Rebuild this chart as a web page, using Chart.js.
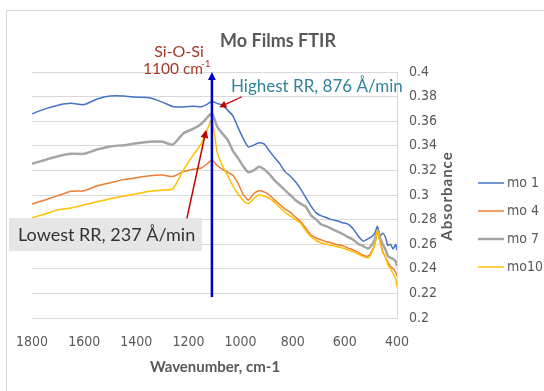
<!DOCTYPE html>
<html lang="en">
<head>
    <meta charset="UTF-8">
    <title>Mo Films FTIR</title>
    <script src="https://cdn.jsdelivr.net/npm/chart.js"></script>
    <style>
        html, body { margin: 0; padding: 0; background: #fff; }
        #wrap { width: 544px; height: 391px; position: relative; }
    </style>
</head>
<body>
<div id="wrap"><canvas id="ftir-chart" width="544" height="391"></canvas></div>
<script>
// wavenumber grid (cm-1)
const wavenumbers = [1800, 1750, 1700, 1650, 1600, 1550, 1500, 1450, 1400, 1350, 1300, 1260, 1220, 1180, 1150, 1130, 1110,
    1090, 1070, 1050, 1030, 1010, 990, 970, 950, 930, 910, 890, 870, 850, 830, 810, 790, 770, 750, 730, 710,
    690, 670, 650, 630, 610, 590, 570, 550, 530, 510, 495, 485, 475, 465, 455, 445, 435, 425, 415, 405, 400];

const mo1 = [0.366, 0.370, 0.373, 0.3745, 0.3735, 0.378, 0.3805, 0.3805, 0.3795, 0.379, 0.3755, 0.372, 0.3715, 0.3722, 0.3718, 0.3735, 0.376,
    0.3745, 0.373, 0.369, 0.3645, 0.355, 0.346, 0.339, 0.3405, 0.3425, 0.3415, 0.336, 0.3305, 0.3255, 0.319, 0.3155, 0.311, 0.305, 0.298, 0.291, 0.2855,
    0.283, 0.2815, 0.280, 0.279, 0.2775, 0.2765, 0.273, 0.267, 0.2625, 0.2645, 0.2665, 0.269, 0.2745, 0.2665, 0.269, 0.266, 0.259, 0.260, 0.256, 0.260, 0.255];

const mo4 = [0.2927, 0.296, 0.2995, 0.303, 0.3035, 0.3075, 0.310, 0.3125, 0.314, 0.3157, 0.3163, 0.315, 0.319, 0.321, 0.322, 0.325, 0.3285,
    0.324, 0.321, 0.3185, 0.316, 0.3095, 0.3005, 0.296, 0.301, 0.3035, 0.3025, 0.300, 0.296, 0.2925, 0.2885, 0.286, 0.282, 0.2785, 0.273, 0.2675, 0.265,
    0.2635, 0.262, 0.261, 0.2595, 0.259, 0.257, 0.2555, 0.2535, 0.251, 0.2505, 0.255, 0.260, 0.270, 0.262, 0.254, 0.250, 0.245, 0.242, 0.240, 0.237, 0.234];

const mo7 = [0.3253, 0.3285, 0.3315, 0.3335, 0.3335, 0.337, 0.3395, 0.3405, 0.342, 0.3432, 0.3432, 0.341, 0.350, 0.354, 0.358, 0.3625, 0.3665,
    0.3557, 0.350, 0.345, 0.336, 0.330, 0.3235, 0.3185, 0.320, 0.323, 0.321, 0.317, 0.312, 0.308, 0.304, 0.300, 0.296, 0.293, 0.2905, 0.2835, 0.280,
    0.276, 0.2745, 0.2725, 0.2705, 0.2685, 0.266, 0.264, 0.2605, 0.2585, 0.2565, 0.260, 0.264, 0.2715, 0.265, 0.260, 0.256, 0.2505, 0.249, 0.248, 0.246, 0.242];

const mo10 = [0.2815, 0.2845, 0.288, 0.2895, 0.292, 0.2945, 0.297, 0.299, 0.301, 0.303, 0.304, 0.305, 0.320, 0.333, 0.342, 0.352, 0.361,
    0.335, 0.324, 0.316, 0.3075, 0.301, 0.2955, 0.293, 0.297, 0.300, 0.299, 0.2975, 0.294, 0.290, 0.286, 0.283, 0.280, 0.277, 0.271, 0.266, 0.263,
    0.261, 0.260, 0.259, 0.258, 0.257, 0.2555, 0.254, 0.252, 0.250, 0.249, 0.254, 0.260, 0.271, 0.262, 0.253, 0.250, 0.243, 0.240, 0.236, 0.232, 0.225];

const seriesNames = ['mo 1', 'mo 4', 'mo 7', 'mo10'];
const seriesColors = ['#4472C4', '#ED7D31', '#A5A5A5', '#FFC000'];
const seriesWidths = [1.5, 1.5, 2.5, 1.5];
const xTickStep = 200;
const yTickStep = 0.02;

// Si-O-Si marker line
const markerWave = 1110;
const markerFrom = 0.217;
const markerTo = 0.4;

const gridGray = '#D9D9D9';
const textGray = '#595959';
const narrow = '"Liberation Sans Narrow", "DejaVu Sans Condensed", sans-serif';

function arrow(ctx, x1, y1, x2, y2, color, width, head) {
    const a = Math.atan2(y2 - y1, x2 - x1);
    ctx.save();
    ctx.strokeStyle = color;
    ctx.fillStyle = color;
    ctx.lineWidth = width;
    ctx.beginPath();
    ctx.moveTo(x1, y1);
    ctx.lineTo(x2 - Math.cos(a) * head * 0.8, y2 - Math.sin(a) * head * 0.8);
    ctx.stroke();
    ctx.beginPath();
    ctx.moveTo(x2, y2);
    ctx.lineTo(x2 - head * Math.cos(a - 0.45), y2 - head * Math.sin(a - 0.45));
    ctx.lineTo(x2 - head * Math.cos(a + 0.45), y2 - head * Math.sin(a + 0.45));
    ctx.closePath();
    ctx.fill();
    ctx.restore();
}

const decorations = {
    id: 'decorations',
    beforeDraw(chart) {
        const ctx = chart.ctx;
        ctx.save();
        ctx.fillStyle = '#fff';
        ctx.fillRect(0, 0, chart.width, chart.height);
        ctx.strokeStyle = gridGray;
        ctx.lineWidth = 1;
        ctx.strokeRect(6.5, 10.5, 600, 400);
        ctx.restore();
    },
    afterDatasetsDraw(chart) {
        const ctx = chart.ctx;
        const x = chart.scales.x, y = chart.scales.y;
        ctx.save();

        // title
        ctx.fillStyle = textGray;
        ctx.font = 'bold 18px Lato';
        ctx.textAlign = 'center';
        ctx.textBaseline = 'middle';
        ctx.fillText('Mo Films FTIR', 278, 41);

        // axis titles
        ctx.font = 'bold 15px Lato';
        ctx.fillText('Wavenumber, cm-1', 215, 367);
        ctx.save();
        ctx.translate(447, 196);
        ctx.rotate(-Math.PI / 2);
        ctx.font = 'bold 15px Lato';
        if ('letterSpacing' in ctx) ctx.letterSpacing = '1px';
        ctx.fillText('Absorbance', 0, 0);
        ctx.restore();

        // legend
        ctx.font = '14px ' + narrow;
        ctx.textAlign = 'left';
        seriesNames.forEach((name, i) => {
            const ly = 183 + i * 28;
            ctx.strokeStyle = seriesColors[i];
            ctx.lineWidth = seriesWidths[i];
            ctx.beginPath();
            ctx.moveTo(478, ly);
            ctx.lineTo(504, ly);
            ctx.stroke();
            ctx.fillStyle = textGray;
            ctx.fillText(name, 507, ly);
        });

        // Si-O-Si marker
        const mx = x.getPixelForValue(markerWave);
        const mTop = y.getPixelForValue(markerTo);
        const mBot = y.getPixelForValue(markerFrom);
        arrow(ctx, mx, mBot, mx, mTop, '#0000CC', 2.5, 9);

        ctx.fillStyle = '#A33A2A';
        ctx.font = '16px Lato';
        ctx.textAlign = 'center';
        ctx.fillText('Si-O-Si', 179, 52);
        ctx.textAlign = 'left';
        ctx.font = '15.5px Lato';
        ctx.fillText('1100 cm', 143, 69);
        ctx.font = '10px Lato';
        ctx.fillText('-1', 201, 64);

        // highest RR
        ctx.fillStyle = '#31849B';
        ctx.font = '17px Lato';
        ctx.fillText('Highest RR, 876 Å/min', 231, 87);
        arrow(ctx, x.getPixelForValue(995), y.getPixelForValue(0.3799),
            x.getPixelForValue(1082), y.getPixelForValue(0.3713), '#C00000', 1.3, 8);

        // lowest RR
        ctx.fillStyle = '#E7E6E6';
        ctx.fillRect(9, 218, 193, 33);
        ctx.fillStyle = '#333';
        ctx.font = '18px Lato';
        ctx.fillText('Lowest RR, 237 Å/min', 18, 235);
        arrow(ctx, x.getPixelForValue(1206), y.getPixelForValue(0.281),
            x.getPixelForValue(1132), y.getPixelForValue(0.353), '#C00000', 1.5, 9);

        ctx.restore();
    }
};

const datasets = [mo1, mo4, mo7, mo10].map((vals, i) => ({
    label: seriesNames[i],
    data: vals.map((v, k) => ({ x: wavenumbers[k], y: v })),
    borderColor: seriesColors[i],
    backgroundColor: seriesColors[i],
    borderWidth: seriesWidths[i],
    pointRadius: 0,
    tension: 0.2,
    fill: false,
    order: 4 - i
}));

new Chart(document.getElementById('ftir-chart'), {
    type: 'line',
    data: { datasets: datasets },
    options: {
        responsive: false,
        animation: false,
        events: [],
        layout: { padding: { left: 32, top: 72, right: 0, bottom: 0 } },
        plugins: { legend: { display: false }, title: { display: false }, tooltip: { enabled: false } },
        scales: {
            x: {
                type: 'linear',
                reverse: true,
                min: Math.min(...wavenumbers),
                max: Math.max(...wavenumbers),
                grid: { display: false, drawTicks: false },
                border: { display: true, color: gridGray },
                ticks: {
                    stepSize: xTickStep,
                    color: textGray,
                    font: { family: narrow, size: 14 },
                    padding: 16,
                    maxRotation: 0,
                    callback: v => String(v)
                },
                afterFit(scale) { scale.height = 73; }
            },
            y: {
                position: 'right',
                min: 0.2,
                max: 0.4,
                grid: { color: gridGray, drawTicks: false },
                border: { display: true, color: gridGray },
                ticks: {
                    stepSize: yTickStep,
                    color: textGray,
                    font: { family: narrow, size: 14 },
                    padding: 12,
                    callback: v => String(+v.toFixed(2))
                },
                afterFit(scale) { scale.width = 147; }
            }
        }
    },
    plugins: [decorations]
});
</script>
</body>
</html>
